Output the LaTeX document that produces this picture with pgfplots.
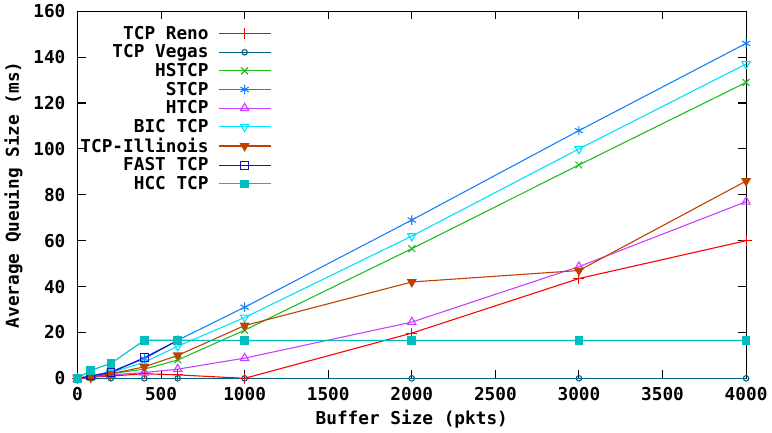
\documentclass[border=0pt]{standalone}
\usepackage{fontspec}
\setmainfont{DejaVu Sans Mono}[BoldFont={DejaVu Sans Mono Bold}]
\usepackage{pgfplots}
\pgfplotsset{compat=1.18}
\definecolor{cReno}{RGB}{255,0,0}
\definecolor{cVegas}{RGB}{0,96,128}
\definecolor{cHS}{RGB}{30,190,30}
\definecolor{cS}{RGB}{20,128,255}
\definecolor{cH}{RGB}{200,64,255}
\definecolor{cBIC}{RGB}{0,224,255}
\definecolor{cIll}{RGB}{192,64,0}
\definecolor{cFAST}{RGB}{20,20,190}
\definecolor{cHCC}{RGB}{0,190,190}
\newcommand{\lf}{\bfseries\fontsize{13}{15}\selectfont}
\begin{document}
\begin{tikzpicture}
\begin{axis}[
  width=490pt, height=269pt, scale only axis,
  xmin=0, xmax=4000, ymin=0, ymax=160,
  xtick={0,500,...,4000}, ytick={0,20,...,160},
  scaled x ticks=false,
  /pgf/number format/assume math mode=true,
  /pgf/number format/1000 sep={},
  tick label style={font=\lf},
  y tick label style={xshift=-5.3pt},
  x tick label style={yshift=-3pt},
  label style={font=\lf},
  ylabel style={yshift=1pt},
  xlabel={Buffer Size (pkts)},
  ylabel={Average Queuing Size (ms)},
  major tick length=6pt,
  tick style={black, line width=0.8pt},
  axis line style={line width=0.8pt},
  legend style={draw=none, fill=none, at={(0.29,0.968)}, anchor=north east,
    inner sep=0pt, font=\lf, row sep=-1.5pt, column sep=5pt, cells={anchor=east}},
  legend plot pos=right,
  legend image code/.code={\draw[mark repeat=2,mark phase=2,#1] plot coordinates {(0pt,0pt) (19pt,0pt) (38pt,0pt)};},
  every axis plot/.append style={line width=0.8pt, mark size=3pt},
]
\addplot[cReno, mark=+, mark size=4pt] coordinates {(0,0) (80,0.5) (200,1) (400,2) (600,1.5) (1000,0) (2000,19.7) (3000,43.5) (4000,60)};
\addlegendentry{TCP Reno}
\addplot[cVegas, mark=o, mark size=2pt] coordinates {(0,0) (80,0) (200,0) (400,0) (600,0) (1000,0) (2000,0) (3000,0) (4000,0)};
\addlegendentry{TCP Vegas}
\addplot[cHS, mark=x, mark size=3.5pt] coordinates {(0,0) (80,0.5) (200,2) (400,4) (600,8) (1000,21) (2000,56.5) (3000,93) (4000,129)};
\addlegendentry{HSTCP}
\addplot[cS, mark=asterisk, mark size=3.5pt] coordinates {(0,0) (80,1) (200,3) (400,8.5) (600,16.6) (1000,31) (2000,69) (3000,108) (4000,146)};
\addlegendentry{STCP}
\addplot[cH, mark=triangle, mark size=3.5pt] coordinates {(0,0) (80,0.5) (200,1.5) (400,2.5) (600,4) (1000,8.8) (2000,24.5) (3000,48.7) (4000,77)};
\addlegendentry{HTCP}
\addplot[cBIC, mark=triangle, mark size=3.5pt, mark options={rotate=180}] coordinates {(0,0) (80,0.8) (200,2.5) (400,7) (600,14) (1000,26.5) (2000,62) (3000,100) (4000,137)};
\addlegendentry{BIC TCP}
\addplot[cIll, mark=triangle*, mark size=3.5pt, mark options={rotate=180}] coordinates {(0,0) (80,0.5) (200,2) (400,5) (600,10) (1000,23) (2000,42) (3000,47) (4000,86)};
\addlegendentry{TCP-Illinois}
\addplot[cFAST, mark=square, mark size=2.8pt] coordinates {(0,0) (80,1) (200,2.5) (400,9) (600,16.5)};
\addlegendentry{FAST TCP}
\addplot[cHCC, mark=square*, mark size=2.8pt] coordinates {(0,0) (80,3.5) (200,6.5) (400,16.6) (600,16.6) (1000,16.5) (2000,16.5) (3000,16.5) (4000,16.5)};
\addlegendentry{HCC TCP}
\end{axis}
\end{tikzpicture}
\end{document}
